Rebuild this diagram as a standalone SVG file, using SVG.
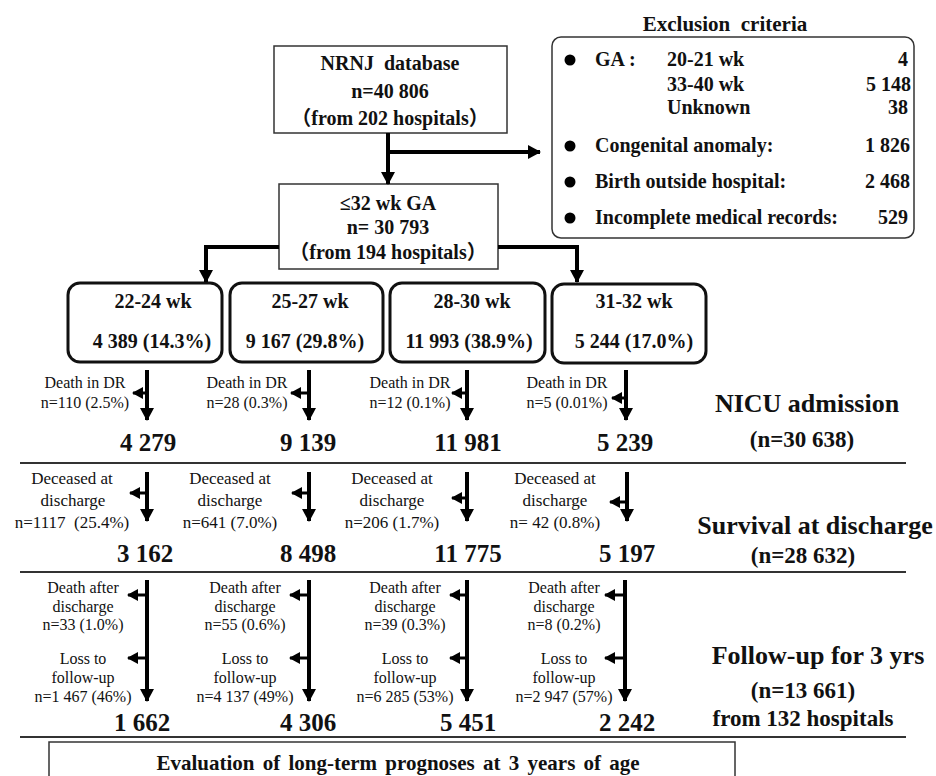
<svg xmlns="http://www.w3.org/2000/svg" width="936" height="776" viewBox="0 0 936 776" font-family="'Liberation Serif', 'Times New Roman', 'DejaVu Serif', serif">
<style>
text{font-family:'Liberation Serif','Times New Roman','DejaVu Serif',serif;fill:#111;text-anchor:middle}
.cjk{font-family:'Liberation Serif','Noto Sans CJK JP',serif}
.b{font-weight:bold}
.f20{font-size:20px}
.f16{font-size:16px}
.f17{font-size:17px}
.big{font-size:25px;font-weight:bold}
.lab{font-size:26px;font-weight:bold}
.sub{font-size:23px;font-weight:bold}
.thin{fill:#fff;stroke:#333;stroke-width:1.5}
.stage{fill:#fff;stroke:#111;stroke-width:3}
.sep{stroke:#333;stroke-width:2}
.ar{stroke:#000;stroke-width:4;fill:none}
.sa{stroke:#000;stroke-width:3;fill:none}
</style>
<defs>
<marker id="ah" markerWidth="14" markerHeight="14" refX="12" refY="7" orient="auto" markerUnits="userSpaceOnUse"><path d="M0,0 L13,7 L0,14 z" fill="#000"/></marker>
<marker id="sh" markerWidth="12" markerHeight="12" refX="10" refY="6" orient="auto" markerUnits="userSpaceOnUse"><path d="M0,0 L11,6 L0,12 z" fill="#000"/></marker>
</defs>

<g id="nrnj">
<rect class="thin" x="274" y="46" width="233" height="87"/>
<text class="b f20" x="390" y="70">NRNJ&#160; database</text>
<text class="b f20" x="390" y="98">n=40 806</text>
<text class="b f20 cjk" x="390" y="125">（from 202 hospitals）</text>
</g>

<g id="ga32">
<rect class="thin" x="279" y="184" width="219" height="85"/>
<text class="b f20" x="388" y="210">≤32 wk GA</text>
<text class="b f20" x="388" y="234">n= 30 793</text>
<text class="b f20 cjk" x="388" y="259">（from 194 hospitals）</text>
</g>

<g id="exclusion">
<text class="b" style="font-size:21px" x="725" y="31">Exclusion&#160; criteria</text>
<rect class="thin" x="552" y="37" width="362" height="201" rx="9"/>
<circle cx="570" cy="60" r="5.5" fill="#000"/>
<circle cx="570" cy="146" r="5.5" fill="#000"/>
<circle cx="570" cy="182" r="5.5" fill="#000"/>
<circle cx="570" cy="218" r="5.5" fill="#000"/>
<text class="b f20" x="595" y="66" style="text-anchor:start">GA :</text>
<text class="b f20" x="667" y="66" style="text-anchor:start">20-21 wk</text>
<text class="b f20" x="667" y="91" style="text-anchor:start">33-40 wk</text>
<text class="b f20" x="667" y="114" style="text-anchor:start">Unknown</text>
<text class="b f20" x="595" y="152" style="text-anchor:start">Congenital anomaly:</text>
<text class="b f20" x="595" y="188" style="text-anchor:start">Birth outside hospital:</text>
<text class="b f20" x="595" y="224" style="text-anchor:start">Incomplete medical records:</text>
<text class="b f20" x="908" y="66" style="text-anchor:end">4</text>
<text class="b f20" x="911" y="91" style="text-anchor:end">5 148</text>
<text class="b f20" x="908" y="114" style="text-anchor:end">38</text>
<text class="b f20" x="910" y="152" style="text-anchor:end">1 826</text>
<text class="b f20" x="910" y="188" style="text-anchor:end">2 468</text>
<text class="b f20" x="908" y="224" style="text-anchor:end">529</text>
</g>

<g id="wk22">
<rect class="stage" x="68" y="283" width="154" height="79" rx="12"/>
<text class="b f20" x="153" y="308">22-24 wk</text>
<text class="b f20" x="152" y="348">4 389 (14.3%)</text>
</g>
<g id="wk25">
<rect class="stage" x="230" y="283" width="153" height="79" rx="12"/>
<text class="b f20" x="310" y="308">25-27 wk</text>
<text class="b f20" x="305" y="348">9 167 (29.8%)</text>
</g>
<g id="wk28">
<rect class="stage" x="390" y="283" width="155" height="79" rx="12"/>
<text class="b f20" x="472" y="308">28-30 wk</text>
<text class="b f20" x="469" y="348">11 993 (38.9%)</text>
</g>
<g id="wk31">
<rect class="stage" x="552" y="284" width="154" height="79" rx="12"/>
<text class="b f20" x="634" y="308">31-32 wk</text>
<text class="b f20" x="634" y="348">5 244 (17.0%)</text>
</g>

<g id="separators">
<line class="sep" x1="20" y1="463" x2="906" y2="463"/>
<line class="sep" x1="20" y1="572" x2="906" y2="572"/>
<line class="sep" x1="20" y1="737" x2="906" y2="737"/>
</g>

<g id="connectors">
<line class="ar" x1="388" y1="133" x2="388" y2="184" marker-end="url(#ah)"/>
<line class="ar" x1="386" y1="152" x2="540" y2="152" marker-end="url(#ah)"/>
<polyline class="ar" points="279,247 206,247 206,282" marker-end="url(#ah)"/>
<polyline class="ar" points="498,247 577,247 577,282" marker-end="url(#ah)"/>

<line class="ar" x1="147" y1="370" x2="147" y2="420" marker-end="url(#ah)"/>
<line class="ar" x1="309" y1="370" x2="309" y2="420" marker-end="url(#ah)"/>
<line class="ar" x1="467" y1="370" x2="467" y2="420" marker-end="url(#ah)"/>
<line class="ar" x1="626" y1="370" x2="626" y2="420" marker-end="url(#ah)"/>
<line class="sa" x1="147" y1="393" x2="133" y2="393" marker-end="url(#sh)"/>
<line class="sa" x1="309" y1="393" x2="291" y2="393" marker-end="url(#sh)"/>
<line class="sa" x1="467" y1="393" x2="452" y2="393" marker-end="url(#sh)"/>
<line class="sa" x1="626" y1="398" x2="612" y2="398" marker-end="url(#sh)"/>

<line class="ar" x1="147" y1="472" x2="147" y2="521" marker-end="url(#ah)"/>
<line class="ar" x1="309" y1="472" x2="309" y2="521" marker-end="url(#ah)"/>
<line class="ar" x1="467" y1="472" x2="467" y2="521" marker-end="url(#ah)"/>
<line class="ar" x1="627" y1="472" x2="627" y2="521" marker-end="url(#ah)"/>
<line class="sa" x1="147" y1="493" x2="130" y2="493" marker-end="url(#sh)"/>
<line class="sa" x1="309" y1="493" x2="292" y2="493" marker-end="url(#sh)"/>
<line class="sa" x1="467" y1="498" x2="452" y2="498" marker-end="url(#sh)"/>
<line class="sa" x1="627" y1="502" x2="610" y2="502" marker-end="url(#sh)"/>

<line class="ar" x1="147" y1="580" x2="147" y2="701" marker-end="url(#ah)"/>
<line class="ar" x1="309" y1="580" x2="309" y2="701" marker-end="url(#ah)"/>
<line class="ar" x1="467" y1="580" x2="467" y2="701" marker-end="url(#ah)"/>
<line class="ar" x1="625" y1="580" x2="625" y2="701" marker-end="url(#ah)"/>
<line class="sa" x1="147" y1="595" x2="128" y2="595" marker-end="url(#sh)"/>
<line class="sa" x1="147" y1="658" x2="128" y2="658" marker-end="url(#sh)"/>
<line class="sa" x1="309" y1="595" x2="290" y2="595" marker-end="url(#sh)"/>
<line class="sa" x1="309" y1="658" x2="290" y2="658" marker-end="url(#sh)"/>
<line class="sa" x1="467" y1="595" x2="450" y2="595" marker-end="url(#sh)"/>
<line class="sa" x1="467" y1="658" x2="450" y2="658" marker-end="url(#sh)"/>
<line class="sa" x1="625" y1="595" x2="605" y2="595" marker-end="url(#sh)"/>
<line class="sa" x1="625" y1="658" x2="605" y2="658" marker-end="url(#sh)"/>
</g>

<g id="dr-labels">
<text class="f16" x="85" y="388">Death in DR</text>
<text class="f16" x="85" y="408">n=110 (2.5%)</text>
<text class="f16" x="247" y="388">Death in DR</text>
<text class="f16" x="247" y="408">n=28 (0.3%)</text>
<text class="f16" x="410" y="388">Death in DR</text>
<text class="f16" x="410" y="408">n=12 (0.1%)</text>
<text class="f16" x="567" y="388">Death in DR</text>
<text class="f16" x="567" y="408">n=5 (0.01%)</text>
</g>
<g id="nicu-counts">
<text class="big" x="148" y="451">4 279</text>
<text class="big" x="308" y="451">9 139</text>
<text class="big" x="468" y="451">11 981</text>
<text class="big" x="625" y="451">5 239</text>
<text class="lab" x="807" y="412">NICU admission</text>
<text class="sub" x="802" y="447">(n=30 638)</text>
</g>

<g id="discharge-labels">
<text class="f17" x="72" y="484">Deceased at</text>
<text class="f17" x="73" y="506">discharge</text>
<text class="f17" x="72" y="528">n=1117&#160; (25.4%)</text>
<text class="f17" x="230" y="484">Deceased at</text>
<text class="f17" x="230" y="506">discharge</text>
<text class="f17" x="230" y="528">n=641 (7.0%)</text>
<text class="f17" x="392" y="484">Deceased at</text>
<text class="f17" x="392" y="506">discharge</text>
<text class="f17" x="392" y="528">n=206 (1.7%)</text>
<text class="f17" x="555" y="484">Deceased at</text>
<text class="f17" x="555" y="506">discharge</text>
<text class="f17" x="555" y="528">n= 42 (0.8%)</text>
</g>
<g id="discharge-counts">
<text class="big" x="145" y="562">3 162</text>
<text class="big" x="308" y="562">8 498</text>
<text class="big" x="468" y="562">11 775</text>
<text class="big" x="627" y="562">5 197</text>
<text class="lab" x="815" y="534">Survival at discharge</text>
<text class="sub" x="803" y="563">(n=28 632)</text>
</g>

<g id="followup-labels">
<text class="f16" x="83" y="593">Death after</text>
<text class="f16" x="83" y="612">discharge</text>
<text class="f16" x="83" y="630">n=33 (1.0%)</text>
<text class="f16" x="83" y="664">Loss to</text>
<text class="f16" x="83" y="683">follow-up</text>
<text class="f16" x="83" y="702">n=1 467 (46%)</text>
<text class="f16" x="245" y="593">Death after</text>
<text class="f16" x="245" y="612">discharge</text>
<text class="f16" x="245" y="630">n=55 (0.6%)</text>
<text class="f16" x="245" y="664">Loss to</text>
<text class="f16" x="245" y="683">follow-up</text>
<text class="f16" x="245" y="702">n=4 137 (49%)</text>
<text class="f16" x="405" y="593">Death after</text>
<text class="f16" x="405" y="612">discharge</text>
<text class="f16" x="405" y="630">n=39 (0.3%)</text>
<text class="f16" x="405" y="664">Loss to</text>
<text class="f16" x="405" y="683">follow-up</text>
<text class="f16" x="405" y="702">n=6 285 (53%)</text>
<text class="f16" x="564" y="593">Death after</text>
<text class="f16" x="564" y="612">discharge</text>
<text class="f16" x="564" y="630">n=8 (0.2%)</text>
<text class="f16" x="564" y="664">Loss to</text>
<text class="f16" x="564" y="683">follow-up</text>
<text class="f16" x="564" y="702">n=2 947 (57%)</text>
</g>
<g id="followup-counts">
<text class="big" x="142" y="731">1 662</text>
<text class="big" x="308" y="731">4 306</text>
<text class="big" x="468" y="731">5 451</text>
<text class="big" x="627" y="731">2 242</text>
<text class="lab" x="818" y="664">Follow-up for 3 yrs</text>
<text class="sub" x="803" y="698">(n=13 661)</text>
<text class="sub" x="803" y="726">from 132 hospitals</text>
</g>

<g id="evaluation">
<rect class="thin" x="49" y="742" width="686" height="60"/>
<text class="b" style="font-size:21px;word-spacing:3px" x="398" y="770">Evaluation of long-term prognoses at 3 years of age</text>
</g>
</svg>
